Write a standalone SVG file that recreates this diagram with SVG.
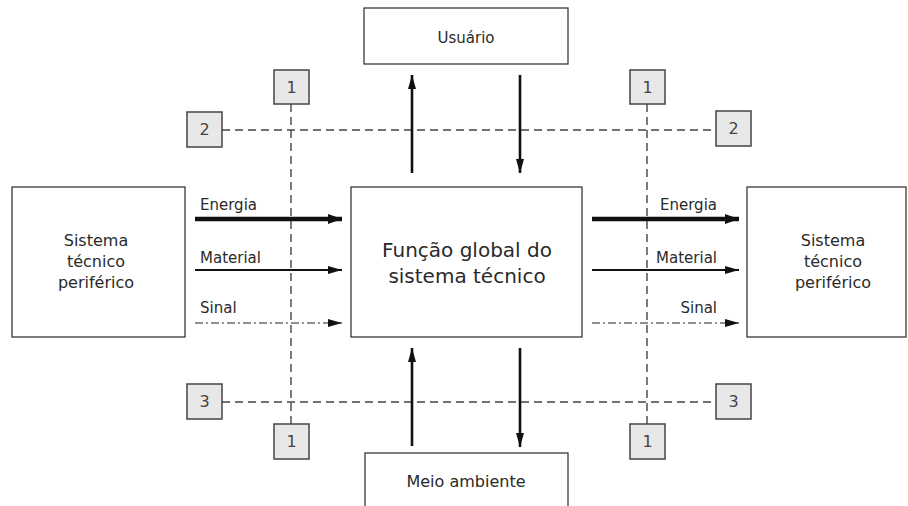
<svg xmlns="http://www.w3.org/2000/svg" width="908" height="506" viewBox="0 0 908 506">
<defs>
<style>
.box{fill:#fff;stroke:#3a3a3a;stroke-width:1.3}
.nbox{fill:#e8e8e8;stroke:#444;stroke-width:1.5}
.t{font-family:"DejaVu Sans",sans-serif;fill:#2a2a2a}
.lbl{font-size:15px}
.big{font-size:20px}
.mid{font-size:16px}
.num{font-size:16px;fill:#444;text-anchor:middle}
.c{text-anchor:middle}
.dash{stroke:#444;stroke-width:1.4;stroke-dasharray:8 5;fill:none}
.en{stroke:#111;stroke-width:4.5;fill:none}
.ma{stroke:#111;stroke-width:2;fill:none}
.si{stroke:#222;stroke-width:1.2;fill:none;stroke-dasharray:8 3 2 3}
.vt{stroke:#111;stroke-width:2.6;fill:none}
</style>
<marker id="ah" markerUnits="userSpaceOnUse" markerWidth="16" markerHeight="12" refX="14" refY="6" orient="auto">
<path d="M0,1 L14,6 L0,11 Z" fill="#111"/>
</marker>
<marker id="ahs" markerUnits="userSpaceOnUse" markerWidth="16" markerHeight="12" refX="14" refY="6" orient="auto">
<path d="M0,2 L14,6 L0,10 Z" fill="#111"/>
</marker>
</defs>
<rect width="908" height="506" fill="#fff"/>

<g id="connectors">
<line class="dash" x1="222" y1="130" x2="716" y2="130"/>
<line class="dash" x1="222" y1="402" x2="716" y2="402"/>
<line class="dash" x1="291" y1="104" x2="291" y2="424"/>
<line class="dash" x1="647" y1="104" x2="647" y2="424"/>
<line class="en" x1="195" y1="219" x2="342" y2="219" marker-end="url(#ah)"/>
<line class="ma" x1="195" y1="270" x2="342" y2="270" marker-end="url(#ahs)"/>
<line class="si" x1="195" y1="323" x2="342" y2="323" marker-end="url(#ahs)"/>
<line class="en" x1="592" y1="219" x2="739" y2="219" marker-end="url(#ah)"/>
<line class="ma" x1="592" y1="270" x2="739" y2="270" marker-end="url(#ahs)"/>
<line class="si" x1="592" y1="323" x2="739" y2="323" marker-end="url(#ahs)"/>
<line class="vt" x1="412" y1="173" x2="412" y2="75" marker-end="url(#ahs)"/>
<line class="vt" x1="520" y1="75" x2="520" y2="173" marker-end="url(#ahs)"/>
<line class="vt" x1="412" y1="446" x2="412" y2="348" marker-end="url(#ahs)"/>
<line class="vt" x1="520" y1="348" x2="520" y2="447" marker-end="url(#ahs)"/>
<text class="t lbl" x="200" y="210">Energia</text>
<text class="t lbl" x="200" y="263">Material</text>
<text class="t lbl" x="200" y="313">Sinal</text>
<text class="t lbl" x="717" y="210" text-anchor="end">Energia</text>
<text class="t lbl" x="717" y="263" text-anchor="end">Material</text>
<text class="t lbl" x="717" y="313" text-anchor="end">Sinal</text>
</g>

<g id="usuario">
<rect class="box" x="364" y="8" width="204" height="56"/>
<text class="t lbl c" x="466" y="43">Usuário</text>
</g>

<g id="meio-ambiente">
<rect class="box" x="365" y="453" width="203" height="60"/>
<text class="t mid c" x="466" y="487">Meio ambiente</text>
</g>

<g id="funcao-global">
<rect class="box" x="351" y="187" width="231" height="150"/>
<text class="t big c" x="467" y="257">Função global do</text>
<text class="t big c" x="467" y="283">sistema técnico</text>
</g>

<g id="sistema-esq">
<rect class="box" x="12" y="187" width="173" height="150"/>
<text class="t mid c" x="96" y="246">Sistema</text>
<text class="t mid c" x="96" y="267">técnico</text>
<text class="t mid c" x="96" y="288">periférico</text>
</g>

<g id="sistema-dir">
<rect class="box" x="747" y="187" width="159" height="150"/>
<text class="t mid c" x="833" y="246">Sistema</text>
<text class="t mid c" x="833" y="267">técnico</text>
<text class="t mid c" x="833" y="288">periférico</text>
</g>

<g id="n1-tl"><rect class="nbox" x="274" y="70" width="35" height="34"/><text class="t num" x="291.5" y="93">1</text></g>
<g id="n1-tr"><rect class="nbox" x="630" y="70" width="35" height="34"/><text class="t num" x="647.5" y="93">1</text></g>
<g id="n1-bl"><rect class="nbox" x="274" y="424" width="35" height="35"/><text class="t num" x="291.5" y="447">1</text></g>
<g id="n1-br"><rect class="nbox" x="630" y="424" width="35" height="35"/><text class="t num" x="647.5" y="447">1</text></g>
<g id="n2-l"><rect class="nbox" x="187" y="112" width="35" height="35"/><text class="t num" x="204.5" y="135">2</text></g>
<g id="n2-r"><rect class="nbox" x="716" y="111" width="35" height="35"/><text class="t num" x="733.5" y="134">2</text></g>
<g id="n3-l"><rect class="nbox" x="187" y="384" width="35" height="35"/><text class="t num" x="204.5" y="407">3</text></g>
<g id="n3-r"><rect class="nbox" x="716" y="384" width="35" height="35"/><text class="t num" x="733.5" y="407">3</text></g>
</svg>
